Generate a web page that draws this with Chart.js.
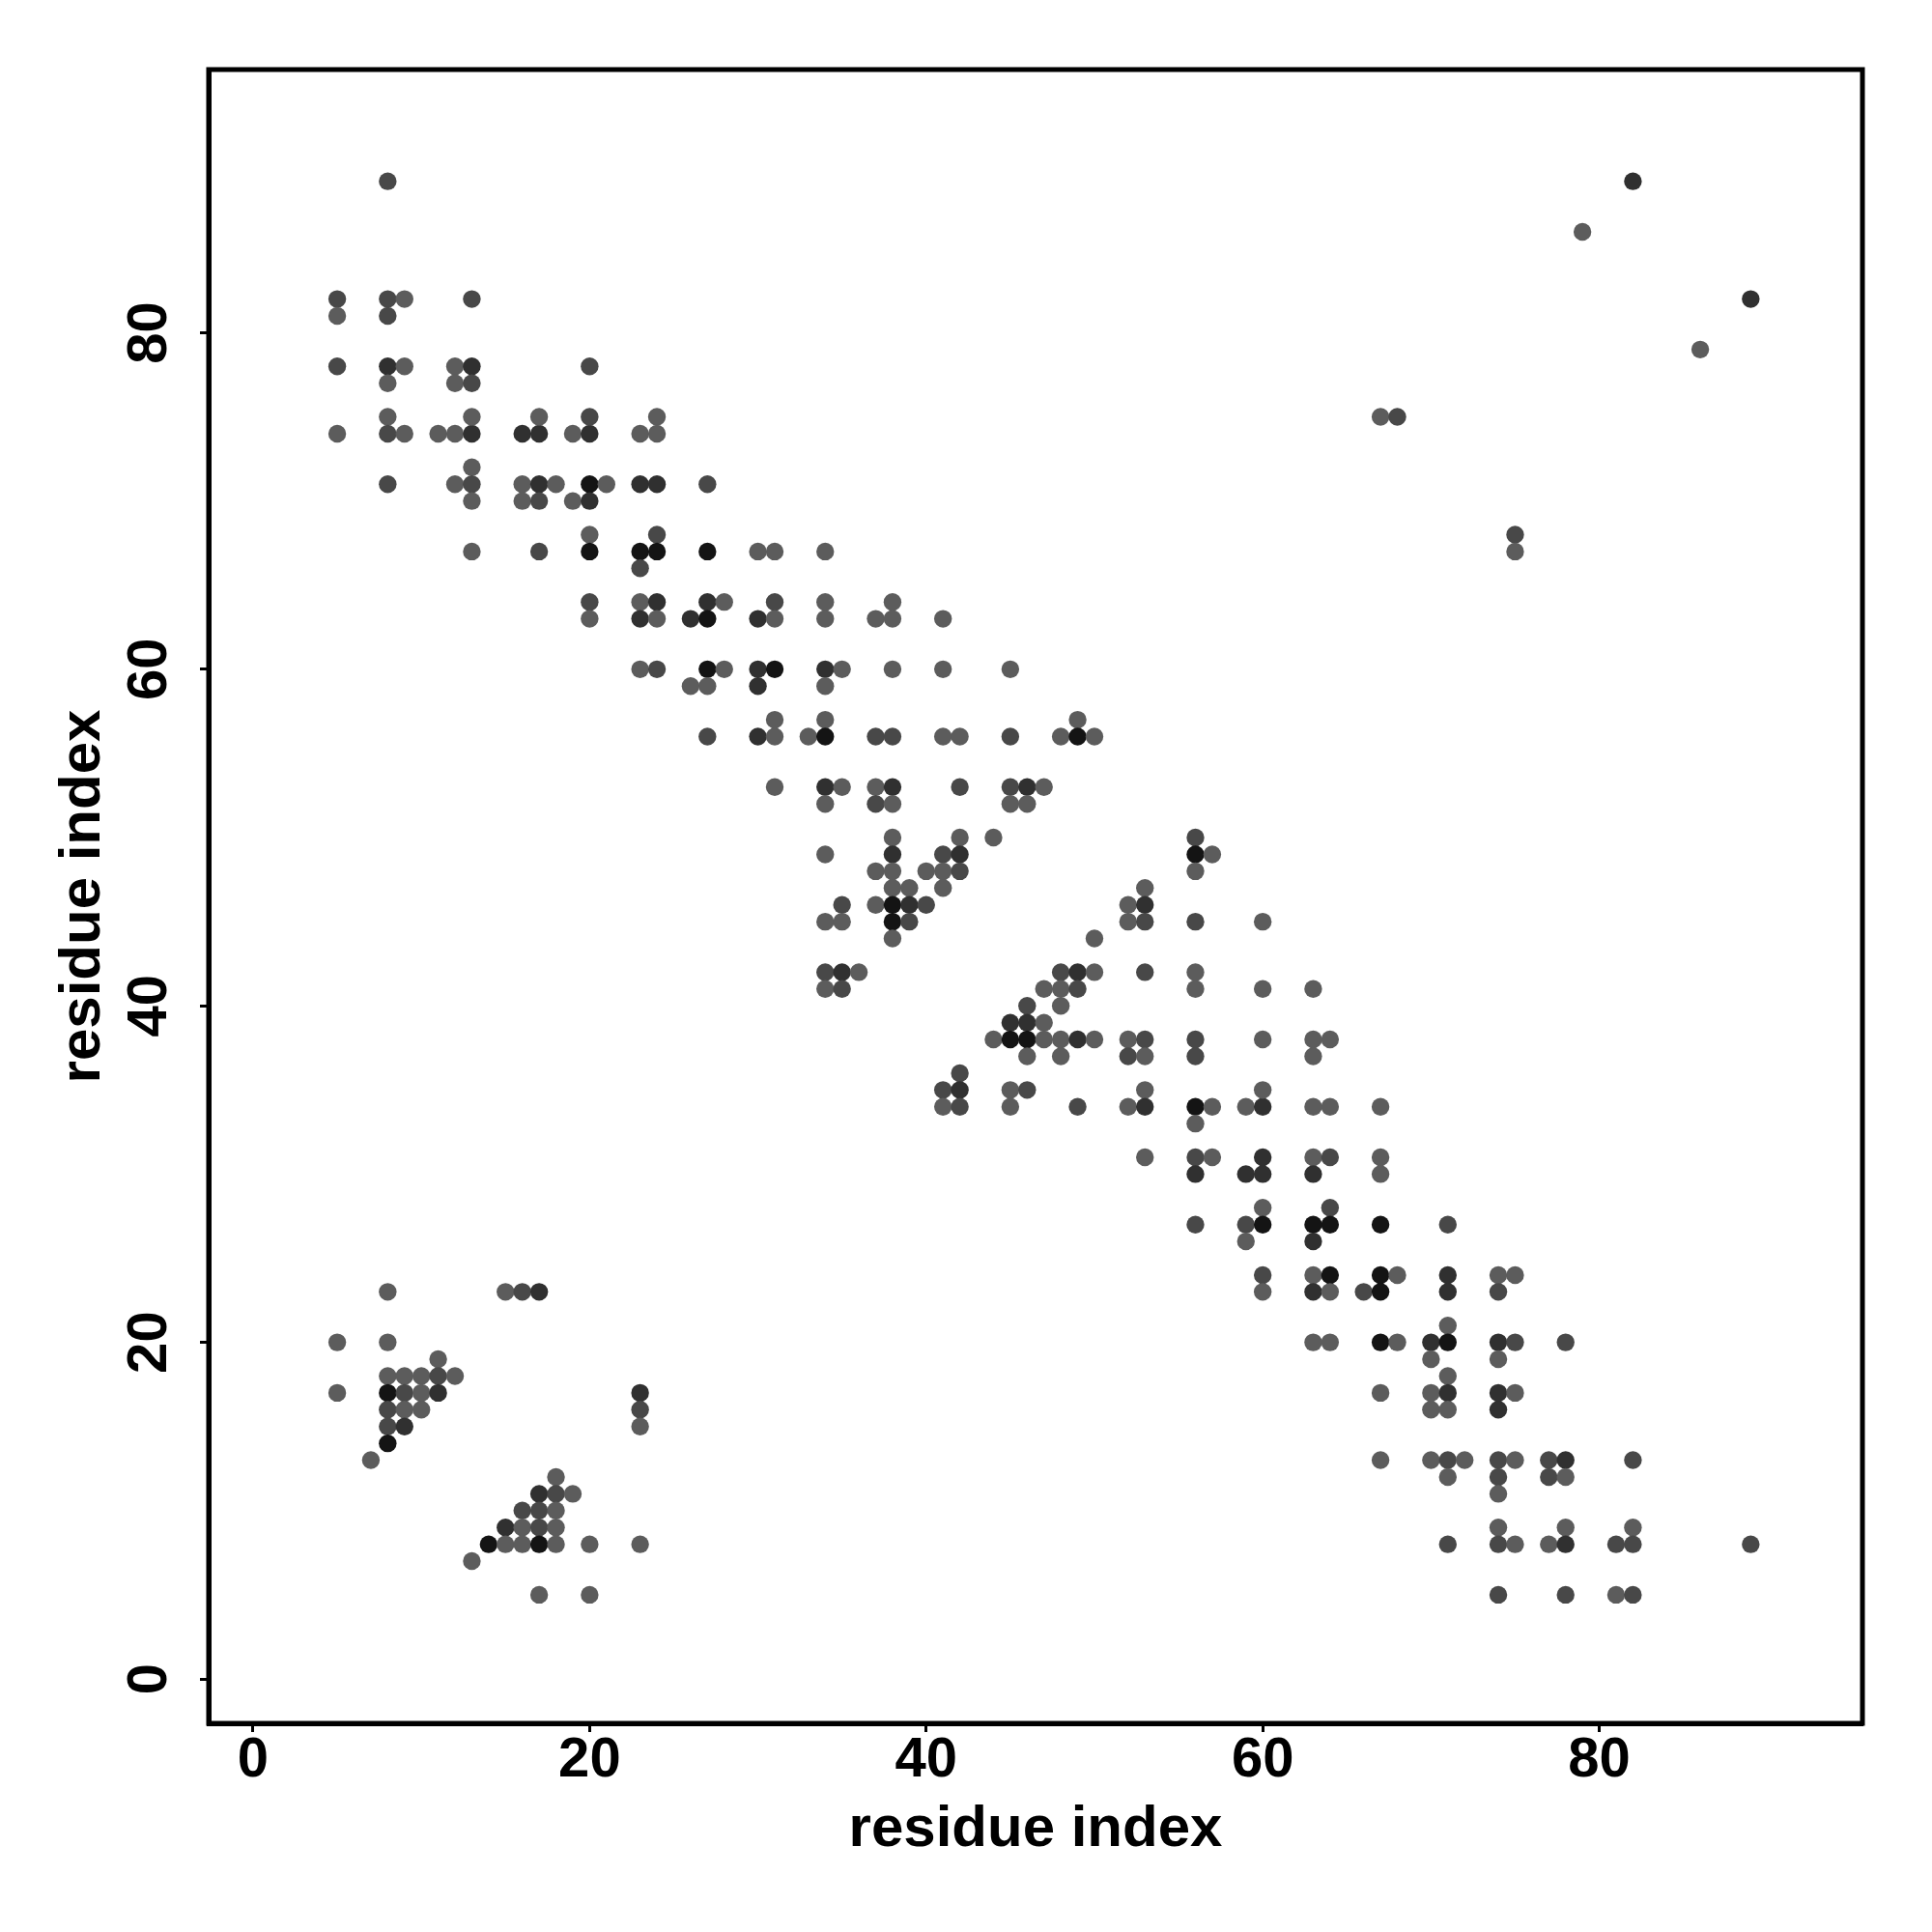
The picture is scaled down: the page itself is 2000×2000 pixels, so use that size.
<!DOCTYPE html>
<html>
<head>
<meta charset="utf-8">
<title>residue contact map</title>
<script src="https://cdn.jsdelivr.net/npm/chart.js@4.4.1/dist/chart.umd.min.js"></script>
<style>
  html, body { margin: 0; padding: 0; background: #fff; }
  canvas { display: block; }
</style>
</head>
<body>
<canvas id="contactMap" width="2000" height="2000"></canvas>
<script>
// contacts as [residue i, residue j, intensity level 1..4]
const upperBand = [
  [8,89,2],
  [5,82,2],[5,81,1],[8,82,2],[9,82,1],[8,81,2],[13,82,2],
  [5,78,2],[8,78,3],[9,78,1],[8,77,1],[12,78,1],[13,78,3],[12,77,1],[13,77,2],[20,78,2],
  [8,75,1],[8,74,2],[9,74,1],[11,74,1],[12,74,1],[13,74,3],[13,75,1],[16,74,3],[17,74,3],[17,75,1],
  [19,74,1],[20,74,3],[20,75,2],[5,74,1],[24,75,1],[23,74,1],[24,74,1],
  [8,71,2],[13,72,1],[12,71,1],[13,71,2],[13,70,1],[16,71,1],[17,71,3],[18,71,1],[16,70,1],[17,70,2],
  [20,71,4],[21,71,1],[19,70,1],[20,70,3],[23,71,3],[24,71,3],[27,71,2],
  [13,67,1],[17,67,2],[20,68,1],[20,67,4],[24,68,2],[23,67,4],[24,67,4],[23,66,2],[27,67,4],
  [30,67,1],[31,67,1],[34,67,1],
  [20,64,2],[20,63,1],[23,64,1],[24,64,3],[23,63,3],[24,63,1],[27,64,3],[28,64,1],[26,63,3],[27,63,4],
  [31,64,2],[30,63,3],[31,63,1],[34,64,1],[34,63,1],[38,64,1],[37,63,1],[38,63,1],[41,63,1],
  [23,60,1],[24,60,2],[27,60,4],[28,60,1],[26,59,1],[27,59,1],[30,60,3],[31,60,4],[30,59,3],
  [34,60,3],[35,60,1],[34,59,1],[38,60,1],[41,60,1],[45,60,1],
  [27,56,2],[31,57,1],[30,56,3],[31,56,1],[34,57,1],[33,56,1],[34,56,4],[37,56,2],[38,56,2],
  [41,56,1],[42,56,1],[45,56,2],[49,57,1],[48,56,1],[49,56,4],[50,56,1],
  [31,53,1],[34,53,3],[35,53,1],[34,52,1],[37,53,1],[38,53,3],[37,52,2],[38,52,1],[42,53,2],
  [45,53,2],[46,53,3],[47,53,1],[45,52,1],[46,52,1],
  [38,50,1],[42,50,1],[44,50,1],[34,49,1],[38,49,3],[41,49,2],[42,49,3],
  [37,48,1],[38,48,1],[40,48,1],[41,48,1],[42,48,2],[38,47,1],[39,47,1],[41,47,1],
  [35,46,2],[37,46,1],[38,46,4],[39,46,3],[40,46,2],[34,45,1],[35,45,1],[38,45,4],[39,45,2],[38,44,1],
  [34,42,2],[35,42,3],[36,42,1],[34,41,1],[35,41,2]
];

const middleBand = [
  [50,44,1],[48,42,2],[49,42,3],[50,42,1],[47,41,1],[48,41,1],[49,41,2],[46,40,2],[48,40,1],
  [45,39,3],[46,39,3],[47,39,1],[44,38,1],[45,38,4],[46,38,4],[47,38,1],[48,38,1],[49,38,3],[50,38,1],
  [46,37,1],[48,37,1],
  [53,47,1],[52,46,1],[53,46,3],[52,45,1],[53,45,2],
  [56,50,2],[56,49,4],[57,49,1],[56,48,1],[56,45,2],[60,45,1],
  [53,42,2],[56,42,1],[56,41,1],[60,41,1],[63,41,1],
  [52,38,1],[53,38,2],[52,37,2],[53,37,1],[56,38,2],[56,37,2],[60,38,1],[63,38,1],[64,38,1],[63,37,1],
  [42,36,2],[41,35,2],[42,35,3],[41,34,1],[42,34,2],[45,35,1],[46,35,2],[45,34,1],[49,34,2],
  [53,35,1],[52,34,1],[53,34,3],[56,34,4],[57,34,1],[59,34,1],[60,34,3],[60,35,1],
  [63,34,1],[64,34,1],[67,34,1],[56,33,1],
  [53,31,1],[56,31,2],[57,31,1],[60,31,3],[63,31,1],[64,31,2],[67,31,1],
  [56,30,3],[59,30,3],[60,30,3],[63,30,3],[67,30,1]
];

const lowerBand = [
  [60,28,1],[64,28,2],
  [56,27,2],[59,27,2],[60,27,4],[63,27,4],[64,27,4],[67,27,4],[71,27,2],
  [59,26,1],[63,26,3],
  [60,24,2],[63,24,1],[64,24,4],[67,24,4],[68,24,1],[71,24,3],[74,24,1],[75,24,1],
  [60,23,1],[63,23,3],[64,23,1],[66,23,2],[67,23,4],[71,23,3],[74,23,2],
  [71,21,1],
  [63,20,1],[64,20,1],[67,20,4],[68,20,1],[70,20,3],[71,20,4],[74,20,3],[75,20,2],[78,20,2],
  [70,19,1],[74,19,1],[71,18,1],
  [67,17,1],[70,17,1],[71,17,3],[74,17,3],[75,17,1],[70,16,1],[71,16,1],[74,16,3],
  [67,13,1],[70,13,1],[71,13,2],[72,13,1],[74,13,2],[75,13,1],[77,13,2],[78,13,3],[82,13,2],
  [71,12,1],[74,12,2],[77,12,2],[78,12,1],[74,11,1],
  [74,9,1],[78,9,1],[82,9,1],
  [71,8,2],[74,8,2],[75,8,1],[77,8,1],[78,8,3],[81,8,2],[82,8,2],[89,8,2],
  [74,5,2],[78,5,2],[81,5,1],[82,5,2]
];

const lowerLeft = [
  [8,23,1],[15,23,1],[16,23,2],[17,23,3],
  [5,20,1],[8,20,1],[11,19,1],
  [8,18,1],[9,18,1],[10,18,1],[11,18,2],[12,18,1],
  [5,17,1],[8,17,4],[9,17,2],[10,17,1],[11,17,3],[23,17,3],
  [8,16,2],[9,16,1],[10,16,1],[23,16,2],
  [8,15,2],[9,15,3],[23,15,1],[8,14,4],[7,13,1],
  [18,12,1],[17,11,3],[18,11,2],[19,11,1],
  [16,10,2],[17,10,2],[18,10,1],
  [15,9,3],[16,9,1],[17,9,2],[18,9,1],
  [14,8,4],[15,8,1],[16,8,1],[17,8,4],[18,8,1],[20,8,1],[23,8,1],
  [13,7,1],[17,5,1],[20,5,1]
];

const farPairs = [
  [82,89,3],[79,86,1],[89,82,3],[86,79,1],[67,75,1],[68,75,2],[75,68,2],[75,67,1]
];

const xTicks = [0, 20, 40, 60, 80];
const yTicks = [0, 20, 40, 60, 80];
const xTitle = "residue index";
const yTitle = "residue index";

// grey for each intensity level
const shades = { 1: "#5c5c5c", 2: "#484848", 3: "#303030", 4: "#141414" };

const FONT = '"Liberation Sans", Arial, Helvetica, sans-serif';

const allContacts = [].concat(upperBand, middleBand, lowerBand, lowerLeft, farPairs)
  .map(c => ({ x: c[0], y: c[1], level: c[2] }));

// R-style box, rotated y labels and axis titles
const framePlugin = {
  id: "frame",
  afterDraw(chart) {
    const ctx = chart.ctx;
    const a = chart.chartArea;
    const xs = chart.scales.x;
    const ys = chart.scales.y;
    ctx.save();
    ctx.strokeStyle = "#000";
    ctx.lineWidth = 5;
    ctx.strokeRect(a.left, a.top, a.right - a.left, a.bottom - a.top);

    ctx.fillStyle = "#000";
    ctx.font = "bold 58px " + FONT;
    ctx.textAlign = "center";
    ctx.textBaseline = "alphabetic";
    xTicks.forEach(v => {
      ctx.fillText(String(v), xs.getPixelForValue(v), a.bottom + 55);
    });
    yTicks.forEach(v => {
      ctx.save();
      ctx.translate(a.left - 44, ys.getPixelForValue(v));
      ctx.rotate(-Math.PI / 2);
      ctx.fillText(String(v), 0, 0);
      ctx.restore();
    });

    ctx.font = "bold 60px " + FONT;
    ctx.fillText(xTitle, (a.left + a.right) / 2, a.bottom + 127);
    ctx.save();
    ctx.translate(a.left - 113, (a.top + a.bottom) / 2);
    ctx.rotate(-Math.PI / 2);
    ctx.fillText(yTitle, 0, 0);
    ctx.restore();
    ctx.restore();
  }
};

const axisGrid = {
  drawOnChartArea: false,
  drawTicks: true,
  tickLength: 9,
  tickWidth: 3,
  tickColor: "#000"
};

new Chart(document.getElementById("contactMap"), {
  type: "scatter",
  data: {
    datasets: [{
      data: allContacts,
      pointRadius: 9.2,
      pointHoverRadius: 9.2,
      pointBorderWidth: 0,
      backgroundColor: c => shades[c.raw ? c.raw.level : 1],
      borderColor: "rgba(0,0,0,0)"
    }]
  },
  options: {
    responsive: false,
    devicePixelRatio: 1,
    animation: false,
    events: [],
    layout: { padding: { left: 0, top: 72, right: 72, bottom: 0 } },
    plugins: { legend: { display: false }, tooltip: { enabled: false } },
    scales: {
      x: {
        type: "linear",
        position: "bottom",
        min: -2.64,
        max: 95.64,
        afterBuildTicks: s => { s.ticks = xTicks.map(v => ({ value: v })); },
        afterFit: s => { s.height = 216; },
        ticks: { display: false },
        grid: axisGrid,
        border: { display: true, width: 5, color: "#000" }
      },
      y: {
        type: "linear",
        position: "left",
        min: -2.64,
        max: 95.64,
        afterBuildTicks: s => { s.ticks = yTicks.map(v => ({ value: v })); },
        afterFit: s => { s.width = 216; },
        ticks: { display: false },
        grid: axisGrid,
        border: { display: true, width: 5, color: "#000" }
      }
    }
  },
  plugins: [framePlugin]
});
</script>
</body>
</html>
